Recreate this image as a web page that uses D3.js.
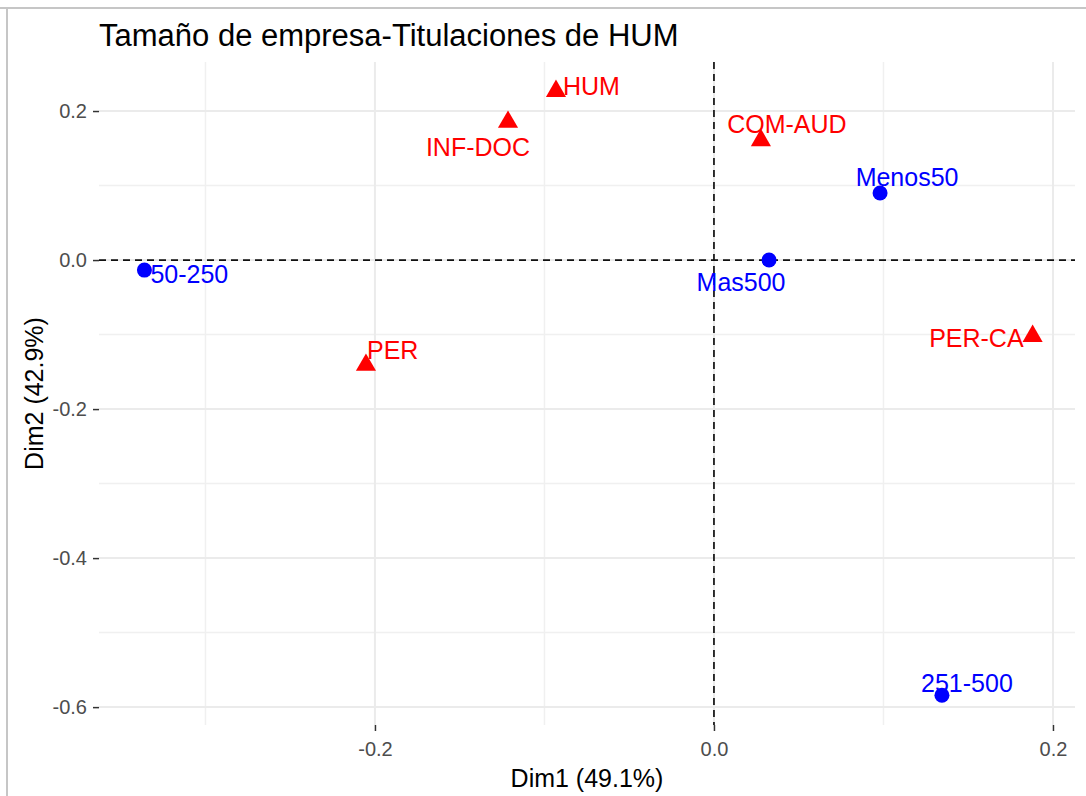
<!DOCTYPE html>
<html>
<head>
<meta charset="utf-8">
<script src="https://cdn.jsdelivr.net/npm/d3@7"></script>
<style>
  body { margin: 0; background: #fff; }
  svg { display: block; font-family: "Liberation Sans", Arial, sans-serif; }
</style>
</head>
<body>
<div id="chart"></div>
<script>
// column points (tamaño de empresa) - blue circles
const colLabels = ['50-250', 'Mas500', 'Menos50', '251-500'];
const colDim1 = [-0.336, 0.0325, 0.098, 0.1345];
const colDim2 = [-0.0135, 0.0, 0.090, -0.584];

// row points (titulaciones) - red triangles
const rowLabels = ['HUM', 'INF-DOC', 'COM-AUD', 'PER', 'PER-CA'];
const rowDim1 = [-0.0932, -0.1215, 0.0277, -0.2053, 0.188];
const rowDim2 = [0.228, 0.1866, 0.162, -0.1396, -0.1007];

const xTicks = [-0.2, 0.0, 0.2];
const yTicks = [0.2, 0.0, -0.2, -0.4, -0.6];
const xMinor = [-0.3, -0.1, 0.1];
const yMinor = [0.1, -0.1, -0.3, -0.5];

const title = 'Tamaño de empresa-Titulaciones de HUM';
const xTitle = 'Dim1 (49.1%)';
const yTitle = 'Dim2 (42.9%)';

// label placement (pixel nudges, repel-like), anchor
const labelPlace = {
  '50-250': [6, 4, 'start'],
  'Mas500': [-28, 22, 'middle'],
  'Menos50': [27, -16, 'middle'],
  '251-500': [25, -12, 'middle'],
  'HUM': [7, -4, 'start'],
  'INF-DOC': [-30, 26, 'middle'],
  'COM-AUD': [26, -15, 'middle'],
  'PER': [1, -14, 'start'],
  'PER-CA': [-9, 3, 'end']
};

const width = 1086, height = 796;
const margin = { top: 62, right: 11, bottom: 71, left: 99 };

const svg = d3.select('#chart').append('svg')
  .attr('width', width).attr('height', height);

// outer border
svg.append('line').attr('x1', 0).attr('x2', width).attr('y1', 8).attr('y2', 8)
  .attr('stroke', '#c6c6c6').attr('stroke-width', 2);
svg.append('line').attr('x1', 7).attr('x2', 7).attr('y1', 8).attr('y2', height)
  .attr('stroke', '#c6c6c6').attr('stroke-width', 2);

const x = d3.scaleLinear()
  .domain([-0.3628, 0.2130])
  .range([margin.left, width - margin.right]);
const y = d3.scaleLinear()
  .domain([-0.624, 0.2658])
  .range([height - margin.bottom, margin.top]);

const g = svg.append('g');

// grid
g.selectAll('.xminor').data(xMinor).join('line')
  .attr('x1', d => x(d)).attr('x2', d => x(d))
  .attr('y1', margin.top).attr('y2', height - margin.bottom)
  .attr('stroke', '#f0f0f0').attr('stroke-width', 1.5);
g.selectAll('.yminor').data(yMinor).join('line')
  .attr('y1', d => y(d)).attr('y2', d => y(d))
  .attr('x1', margin.left).attr('x2', width - margin.right)
  .attr('stroke', '#f0f0f0').attr('stroke-width', 1.5);
g.selectAll('.xmajor').data(xTicks).join('line')
  .attr('x1', d => x(d)).attr('x2', d => x(d))
  .attr('y1', margin.top).attr('y2', height - margin.bottom)
  .attr('stroke', '#ebebeb').attr('stroke-width', 2);
g.selectAll('.ymajor').data(yTicks).join('line')
  .attr('y1', d => y(d)).attr('y2', d => y(d))
  .attr('x1', margin.left).attr('x2', width - margin.right)
  .attr('stroke', '#ebebeb').attr('stroke-width', 2);

// axes
const fmt = d => d3.format('.1f')(d).replace('−', '-');
const xAxis = svg.append('g')
  .attr('transform', `translate(0,${height - margin.bottom})`)
  .call(d3.axisBottom(x).tickValues(xTicks).tickFormat(fmt).tickSize(6).tickPadding(11));
const yAxis = svg.append('g')
  .attr('transform', `translate(${margin.left},0)`)
  .call(d3.axisLeft(y).tickValues(yTicks).tickFormat(fmt).tickSize(6).tickPadding(6));
[xAxis, yAxis].forEach(a => {
  a.select('.domain').remove();
  a.selectAll('.tick line').attr('stroke', '#333').attr('stroke-width', 1.5);
  a.selectAll('.tick text').attr('fill', '#4d4d4d').style('font-size', '20px')
    .style('font-family', '"Liberation Sans", Arial, sans-serif');
});

// reference lines
g.append('line')
  .attr('x1', margin.left).attr('x2', width - margin.right)
  .attr('y1', y(0)).attr('y2', y(0))
  .attr('stroke', '#111').attr('stroke-width', 1.7).attr('stroke-dasharray', '7,5');
g.append('line')
  .attr('x1', x(0)).attr('x2', x(0))
  .attr('y1', margin.top).attr('y2', height - margin.bottom)
  .attr('stroke', '#111').attr('stroke-width', 1.7).attr('stroke-dasharray', '7,5');

// points
const cols = colLabels.map((l, i) => ({ label: l, x: colDim1[i], y: colDim2[i] }));
const rows = rowLabels.map((l, i) => ({ label: l, x: rowDim1[i], y: rowDim2[i] }));

g.selectAll('.col').data(cols).join('circle')
  .attr('cx', d => x(d.x)).attr('cy', d => y(d.y)).attr('r', 7.5)
  .attr('fill', '#0000ff');

const tri = d3.symbol().type(d3.symbolTriangle).size(175);
g.selectAll('.row').data(rows).join('path')
  .attr('d', tri)
  .attr('transform', d => `translate(${x(d.x)},${y(d.y) + 1})`)
  .attr('fill', '#ff0000');

function addLabels(data, color) {
  g.selectAll(null).data(data).join('text')
    .attr('x', d => x(d.x) + labelPlace[d.label][0])
    .attr('y', d => y(d.y) + labelPlace[d.label][1])
    .attr('text-anchor', d => labelPlace[d.label][2])
    .attr('dy', '0.35em')
    .attr('fill', color)
    .style('font-size', '25px')
    .text(d => d.label);
}
addLabels(cols, '#0000ff');
addLabels(rows, '#ff0000');

// titles
svg.append('text').attr('x', margin.left).attr('y', 46)
  .style('font-size', '31px').attr('fill', '#000').text(title);
svg.append('text')
  .attr('x', (margin.left + width - margin.right) / 2).attr('y', 787)
  .attr('text-anchor', 'middle').style('font-size', '25px').attr('fill', '#000')
  .text(xTitle);
svg.append('text')
  .attr('transform', `translate(43,${(margin.top + height - margin.bottom) / 2}) rotate(-90)`)
  .attr('text-anchor', 'middle').style('font-size', '25px').attr('fill', '#000')
  .text(yTitle);
</script>
</body>
</html>
